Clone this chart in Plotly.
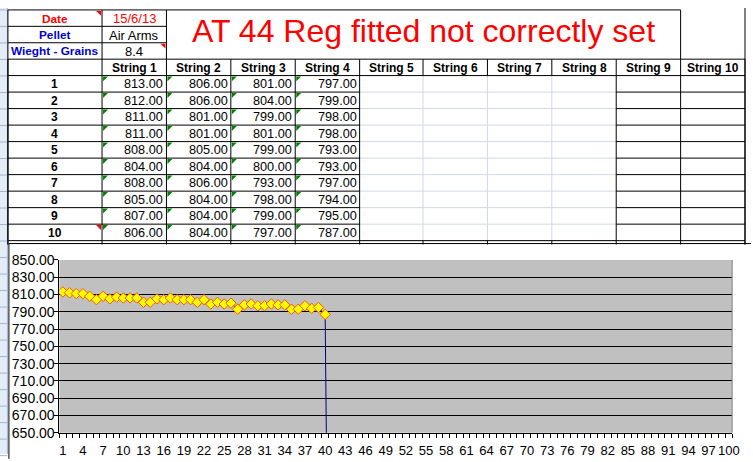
import plotly.graph_objects as go

# Sheet info block
info_labels = ["Date", "Pellet", "Wieght - Grains"]
info_colors = ["#FF0000", "#0000CC", "#0000CC"]
info_values = ["15/6/13", "Air Arms", "8.4"]
sheet_title = "AT 44 Reg fitted not correctly set"

# Table data
string_names = ["String 1", "String 2", "String 3", "String 4", "String 5",
                "String 6", "String 7", "String 8", "String 9", "String 10"]
shot_numbers = [1, 2, 3, 4, 5, 6, 7, 8, 9, 10]
string_1 = [813, 812, 811, 811, 808, 804, 808, 805, 807, 806]
string_2 = [806, 806, 801, 801, 805, 804, 806, 804, 804, 804]
string_3 = [801, 804, 799, 801, 799, 800, 793, 798, 799, 797]
string_4 = [797, 799, 798, 798, 793, 793, 797, 794, 795, 787]
strings = [string_1, string_2, string_3, string_4]

# Chart data: every shot in a row, the empty String 5 reads as 0
chart_y = string_1 + string_2 + string_3 + string_4
chart_x = list(range(1, len(chart_y) + 1))
drop_x = [40, 41]
drop_y = [787, 0]
x_tick_labels = list(range(1, 101, 3))

W, H = 753, 462
FONT = "Arial, 'Liberation Sans', sans-serif"


def px(x):
    return x / W


def py(y):
    return 1 - y / H


# sheet geometry (pixels)
col_edges = [8, 103, 168, 233, 298, 363, 427, 492, 557, 622, 687, 752]
row_edges = [2, 19, 36, 53, 70] + [70 + 17.1 * i for i in range(1, 11)]

shapes = []
annotations = []


def line(x0, y0, x1, y1, color="black", width=1):
    shapes.append(dict(type="line", xref="paper", yref="paper",
                       x0=px(x0), y0=py(y0), x1=px(x1), y1=py(y1),
                       line=dict(color=color, width=width)))


def text(x, y, s, color="black", size=13, bold=False, anchor="center"):
    if bold:
        s = "<b>" + s + "</b>"
    annotations.append(dict(xref="paper", yref="paper", x=px(x), y=py(y), text=s,
                            showarrow=False, xanchor=anchor, yanchor="middle",
                            font=dict(family=FONT, size=size, color=color)))


def tri(points, color):
    path = "M " + " L ".join(f"{px(a)},{py(b)}" for a, b in points) + " Z"
    shapes.append(dict(type="path", xref="paper", yref="paper", path=path,
                       fillcolor=color, line=dict(width=0)))


# row header strip on the left
shapes.append(dict(type="rect", xref="paper", yref="paper", x0=0, x1=px(7.5),
                   y0=0, y1=1, fillcolor="#E4ECF7", line=dict(width=0)))
for k in range(28):
    line(0, 2 + 17.1 * k, 7.5, 2 + 17.1 * k, color="#9EB6CE")
line(7.5, 0, 7.5, H, color="#9EB6CE")

# gray gridlines for the unbordered columns
for y in row_edges[5:]:
    line(col_edges[5], y, col_edges[9], y, color="#D0D7E5")
for x in col_edges[6:9]:
    line(x, 70, x, 241, color="#D0D7E5")

# info block borders
for y in row_edges[:3]:
    line(col_edges[0], y, col_edges[2], y)
line(col_edges[1], 2, col_edges[1], 53)
line(col_edges[2], 2, col_edges[10], 2)
line(col_edges[2], 2, col_edges[2], 53)
line(col_edges[10], 2, col_edges[10], 53)
line(col_edges[11], 0, col_edges[11], 245)

# header row and data borders
line(col_edges[0], 53, col_edges[11], 53)
line(col_edges[0], 70, col_edges[11], 70)
for x in col_edges:
    line(x, 53, x, 70)
    line(x, 241, x, 245)
for y in row_edges[5:-1]:
    line(col_edges[0], y, col_edges[5], y)
    line(col_edges[9], y, col_edges[11], y)
line(col_edges[0], 241, col_edges[11], 241)
for x in col_edges[:6] + col_edges[9:]:
    line(x, 70, x, 241)
line(col_edges[0], 2, col_edges[0], 245)

# info block text
for i, lab in enumerate(info_labels):
    yc = (row_edges[i] + row_edges[i + 1]) / 2 + 0.5
    text((col_edges[0] + col_edges[1]) / 2, yc, lab, color=info_colors[i],
         bold=True, size=11.8)
    text((col_edges[1] + col_edges[2]) / 2, yc, info_values[i],
         color="#FF0000" if i == 0 else "black")
text((col_edges[2] + col_edges[10]) / 2, 24, sheet_title, color="#FF0000", size=32)

# header row
for j, name in enumerate(string_names):
    text((col_edges[j + 1] + col_edges[j + 2]) / 2, 62, name, bold=True, size=12)

# shot rows
for i, n in enumerate(shot_numbers):
    y0 = row_edges[4 + i]
    yc = y0 + 8.55 + 0.5
    text((col_edges[0] + col_edges[1]) / 2, yc, str(n), bold=True, size=12)
    for j, s in enumerate(strings):
        x0, x1 = col_edges[j + 1], col_edges[j + 2]
        text(x1 - 1, yc, f"{s[i]:.2f}", anchor="right", size=12.7)
        tri([(x0 + 1, y0 + 1), (x0 + 6, y0 + 1), (x0 + 1, y0 + 6)], "#008000")

# comment markers
for cx, cy in [(col_edges[1], row_edges[0]), (col_edges[2], row_edges[2]),
               (col_edges[1], row_edges[13])]:
    tri([(cx - 1, cy + 1), (cx - 6, cy + 1), (cx - 1, cy + 6)], "#FF0000")

# chart area border
line(9, 244, 9, H + 5)
line(9, 244, W + 5, 244)
# plot area right edge
line(739, 261, 739, 440, color="#808080")

fig = go.Figure()
fig.add_trace(go.Scatter(x=drop_x, y=drop_y, mode="lines",
                         line=dict(color="#000080", width=1), hoverinfo="skip"))
fig.add_trace(go.Scatter(x=chart_x, y=chart_y, mode="lines+markers",
                         line=dict(color="#D02000", width=1),
                         marker=dict(symbol="diamond", size=8, color="#FFFF00",
                                     line=dict(color="#FF5500", width=1))))

fig.update_layout(
    width=W, height=H,
    margin=dict(l=0, r=0, t=0, b=0),
    paper_bgcolor="white",
    plot_bgcolor="#C0C0C0",
    showlegend=False,
    font=dict(family=FONT, color="black"),
    shapes=shapes,
    annotations=annotations,
    xaxis=dict(domain=[px(60), px(739)], range=[0.5, 100.5],
               tickmode="array", tickvals=x_tick_labels, ticks="",
               ticklabelstandoff=6,
               showgrid=False, showline=True, linecolor="black", linewidth=1,
               tickfont=dict(size=13), zeroline=False,
               minor=dict(ticks="outside", ticklen=4, tickcolor="black",
                          tick0=0.5, dtick=1, showgrid=False)),
    yaxis=dict(domain=[py(440), py(261)], range=[650, 850],
               tick0=650, dtick=20, tickformat=".2f",
               ticks="outside", ticklen=4, tickcolor="black",
               ticklabelstandoff=-3,
               showgrid=True, gridcolor="black", gridwidth=1,
               showline=True, linecolor="black", linewidth=1,
               tickfont=dict(size=14), zeroline=False),
)

# the page body has a default margin; drop it so the figure fills the window
fig.write_html("out.html", config={"displayModeBar": False},
               post_script="document.body.style.margin = '0px';")
